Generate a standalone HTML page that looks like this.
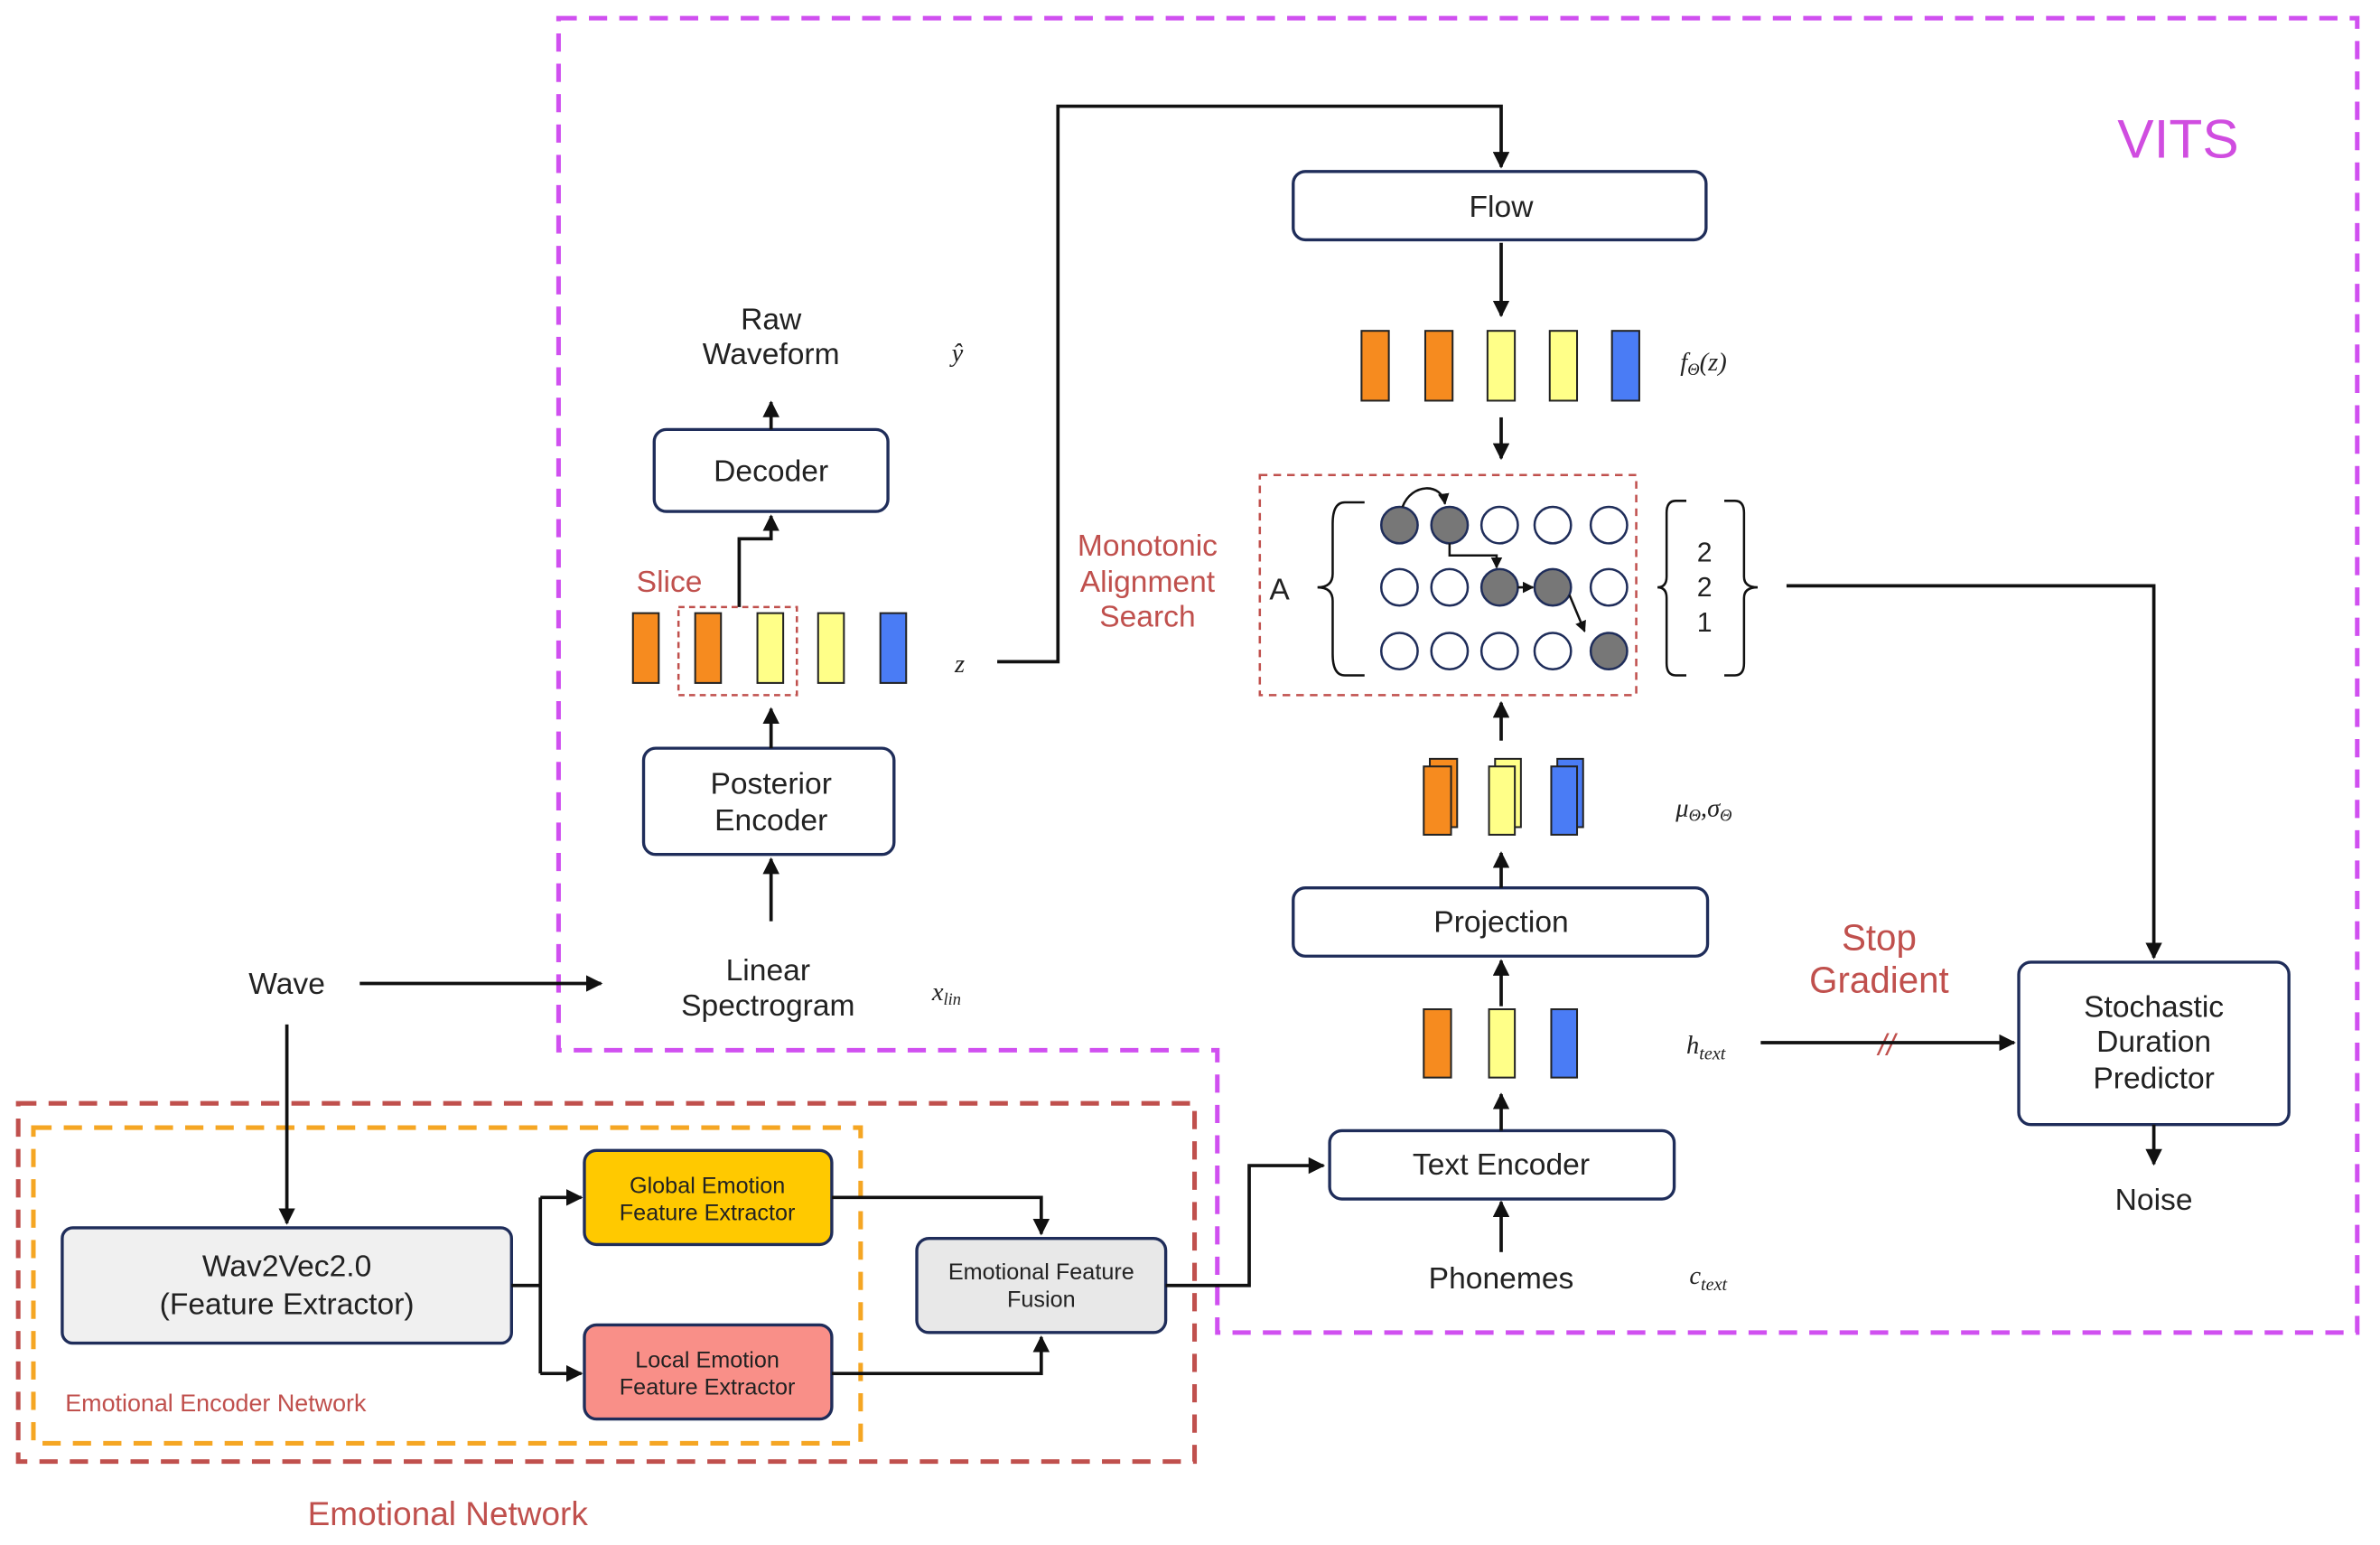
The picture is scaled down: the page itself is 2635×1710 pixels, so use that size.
<!DOCTYPE html>
<html><head><meta charset="utf-8"><style>html,body{margin:0;padding:0;background:#fff}svg{display:block}</style></head>
<body>
<svg width="2635" height="1710" viewBox="0 0 1568 1018" preserveAspectRatio="none" xmlns="http://www.w3.org/2000/svg" font-family="Liberation Sans, sans-serif">
<defs>
<marker id="a" viewBox="0 0 10 10" refX="9" refY="5" markerWidth="5" markerHeight="5" orient="auto"><path d="M0,0L10,5L0,10z" fill="#111"/></marker>
</defs>
<rect width="1568" height="1018" fill="#fff"/>
<!-- VITS region -->
<path d="M368,12H1553V878H802V692H368Z" fill="none" stroke="#d050f0" stroke-width="3" stroke-dasharray="12,8"/>
<text x="1435" y="104" font-size="36" fill="#d04de0" text-anchor="middle">VITS</text>
<!-- Emotional network -->
<rect x="12" y="727" width="775" height="236" fill="none" stroke="#c0504d" stroke-width="3" stroke-dasharray="12,8"/>
<rect x="22" y="743" width="545" height="208" fill="none" stroke="#f5a623" stroke-width="3" stroke-dasharray="12,8"/>
<text x="295" y="1005" font-size="22" fill="#c0504d" text-anchor="middle">Emotional Network</text>
<text x="43" y="930" font-size="16" fill="#c0504d">Emotional Encoder Network</text>
<g stroke="#1f2d5a" stroke-width="2">
<rect x="41" y="809" width="296" height="76" rx="7" fill="#f0f0f0"/>
<rect x="385" y="758" width="163" height="62" rx="8" fill="#ffc900"/>
<rect x="385" y="873" width="163" height="62" rx="8" fill="#f98f88"/>
<rect x="604" y="816" width="164" height="62" rx="8" fill="#e8e8e8"/>
<rect x="876" y="745" width="227" height="45" rx="8" fill="#fff"/>
<rect x="852" y="585" width="273" height="45" rx="8" fill="#fff"/>
<rect x="852" y="113" width="272" height="45" rx="8" fill="#fff"/>
<rect x="431" y="283" width="154" height="54" rx="8" fill="#fff"/>
<rect x="424" y="493" width="165" height="70" rx="8" fill="#fff"/>
<rect x="1330" y="634" width="178" height="107" rx="8" fill="#fff"/>
</g>
<g font-size="15" fill="#222" text-anchor="middle">
<text x="466" y="786">Global Emotion</text><text x="466" y="804">Feature Extractor</text>
<text x="466" y="901">Local Emotion</text><text x="466" y="919">Feature Extractor</text>
<text x="686" y="843">Emotional Feature</text><text x="686" y="861">Fusion</text>
</g>
<g font-size="20" fill="#222" text-anchor="middle">
<text x="189" y="841">Wav2Vec2.0</text><text x="189" y="866">(Feature Extractor)</text>
<text x="189" y="655">Wave</text>
<text x="989" y="774">Text Encoder</text>
<text x="989" y="849">Phonemes</text>
<text x="989" y="614">Projection</text>
<text x="989" y="143">Flow</text>
<text x="508" y="317">Decoder</text>
<text x="508" y="523">Posterior</text><text x="508" y="547">Encoder</text>
<text x="508" y="217">Raw</text><text x="508" y="240">Waveform</text>
<text x="506" y="646">Linear</text><text x="506" y="669">Spectrogram</text>
<text x="1419" y="670">Stochastic</text><text x="1419" y="693">Duration</text><text x="1419" y="717">Predictor</text>
<text x="1419" y="797">Noise</text>
<text x="843" y="395">A</text>
</g>
<g font-size="20" fill="#c0504d" text-anchor="middle">
<text x="441" y="390">Slice</text>
<text x="756" y="366">Monotonic</text><text x="756" y="390">Alignment</text><text x="756" y="413">Search</text>
<text x="1238" y="626" font-size="24">Stop</text><text x="1238" y="654" font-size="24">Gradient</text>
<text x="1243" y="695" font-size="20" font-style="italic">//</text>
</g>
<g font-family="Liberation Serif, serif" font-style="italic" font-size="17" fill="#222">
<text x="1113" y="846">c<tspan font-size="12" dy="4">text</tspan></text>
<text x="1111" y="694">h<tspan font-size="12" dy="4">text</tspan></text>
<text x="1104" y="538">μ<tspan font-size="11" dy="3">Θ</tspan><tspan dy="-3">,σ</tspan><tspan font-size="11" dy="3">Θ</tspan></text>
<text x="1107" y="244">f<tspan font-size="11" dy="3">Θ</tspan><tspan dy="-3">(z)</tspan></text>
<text x="614" y="659">x<tspan font-size="11" dy="3">lin</tspan></text>
<text x="629" y="443">z</text>
<text x="627" y="238">ŷ</text>
</g>
<!-- connectors -->
<g stroke="#111" stroke-width="2.2" fill="none">
<path d="M237,648H396" marker-end="url(#a)"/>
<path d="M189,675V806" marker-end="url(#a)"/>
<path d="M337,847H356"/>
<path d="M356,789V905"/>
<path d="M356,789H383" marker-end="url(#a)"/>
<path d="M356,905H383" marker-end="url(#a)"/>
<path d="M548,789H686V813" marker-end="url(#a)"/>
<path d="M548,905H686V881" marker-end="url(#a)"/>
<path d="M768,847H823V768H872" marker-end="url(#a)"/>
<path d="M989,825V792" marker-end="url(#a)"/>
<path d="M989,745V721" marker-end="url(#a)"/>
<path d="M989,663V633" marker-end="url(#a)"/>
<path d="M989,585V562" marker-end="url(#a)"/>
<path d="M989,488V463" marker-end="url(#a)"/>
<path d="M989,275V302" marker-end="url(#a)"/>
<path d="M989,160V208" marker-end="url(#a)"/>
<path d="M657,436H697V70H989V110" marker-end="url(#a)"/>
<path d="M508,283V265" marker-end="url(#a)"/>
<path d="M487,400V355H508V340" marker-end="url(#a)"/>
<path d="M508,493V467" marker-end="url(#a)"/>
<path d="M508,607V566" marker-end="url(#a)"/>
<path d="M1177,386H1419V631" marker-end="url(#a)"/>
<path d="M1419,741V767" marker-end="url(#a)"/>
<path d="M1160,687H1327" marker-end="url(#a)"/>
</g>
<!-- MAS box -->
<rect x="830" y="313" width="248" height="145" fill="none" stroke="#c0504d" stroke-width="1.5" stroke-dasharray="5,4"/>
<g stroke="#1f2d5a" stroke-width="1.5">
<g fill="#fff">
<circle cx="988" cy="346" r="12"/><circle cx="1023" cy="346" r="12"/><circle cx="1060" cy="346" r="12"/>
<circle cx="922" cy="387" r="12"/><circle cx="955" cy="387" r="12"/><circle cx="1060" cy="387" r="12"/>
<circle cx="922" cy="429" r="12"/><circle cx="955" cy="429" r="12"/><circle cx="988" cy="429" r="12"/><circle cx="1023" cy="429" r="12"/>
</g>
<g fill="#777">
<circle cx="922" cy="346" r="12"/><circle cx="955" cy="346" r="12"/><circle cx="988" cy="387" r="12"/><circle cx="1023" cy="387" r="12"/><circle cx="1060" cy="429" r="12"/>
</g>
</g>
<g stroke="#111" stroke-width="1.5" fill="none">
<path d="M924,334C930,318 950,318 952,332" marker-end="url(#a)"/>
<path d="M955,358V366H986V374" marker-end="url(#a)"/>
<path d="M1000,387H1010" marker-end="url(#a)"/>
<path d="M1034,392L1044,416" marker-end="url(#a)"/>
<path d="M899,331H886Q878,331 878,345V378Q878,387 868,387Q878,387 878,396V431Q878,445 886,445H899"/>
<path d="M1111,330H1104Q1098,330 1098,338V380Q1098,387 1092,387Q1098,387 1098,394V437Q1098,445 1104,445H1111"/>
<path d="M1136,330H1143Q1149,330 1149,338V380Q1149,387 1158,387Q1149,387 1149,394V437Q1149,445 1143,445H1136"/>
</g>
<g font-size="18" fill="#222" text-anchor="middle"><text x="1123" y="370">2</text><text x="1123" y="393">2</text><text x="1123" y="416">1</text></g>
<!-- vectors -->
<g stroke="#222" stroke-width="1.2">
<rect x="897" y="218" width="18" height="46" fill="#f68b1f"/><rect x="939" y="218" width="18" height="46" fill="#f68b1f"/>
<rect x="980" y="218" width="18" height="46" fill="#ffff88"/><rect x="1021" y="218" width="18" height="46" fill="#ffff88"/>
<rect x="1062" y="218" width="18" height="46" fill="#4a7cf5"/>
<rect x="417" y="404" width="17" height="46" fill="#f68b1f"/><rect x="458" y="404" width="17" height="46" fill="#f68b1f"/>
<rect x="499" y="404" width="17" height="46" fill="#ffff88"/><rect x="539" y="404" width="17" height="46" fill="#ffff88"/>
<rect x="580" y="404" width="17" height="46" fill="#4a7cf5"/>
<rect x="938" y="665" width="18" height="45" fill="#f68b1f"/><rect x="981" y="665" width="17" height="45" fill="#ffff88"/><rect x="1022" y="665" width="17" height="45" fill="#4a7cf5"/>
<rect x="942" y="500" width="18" height="45" fill="#f68b1f"/><rect x="985" y="500" width="17" height="45" fill="#ffff88"/><rect x="1026" y="500" width="17" height="45" fill="#4a7cf5"/>
<rect x="938" y="505" width="18" height="45" fill="#f68b1f"/><rect x="981" y="505" width="17" height="45" fill="#ffff88"/><rect x="1022" y="505" width="17" height="45" fill="#4a7cf5"/>
</g>
<rect x="447" y="400" width="78" height="58" fill="none" stroke="#c0504d" stroke-width="1.5" stroke-dasharray="4,3"/>
</svg>
</body></html>
